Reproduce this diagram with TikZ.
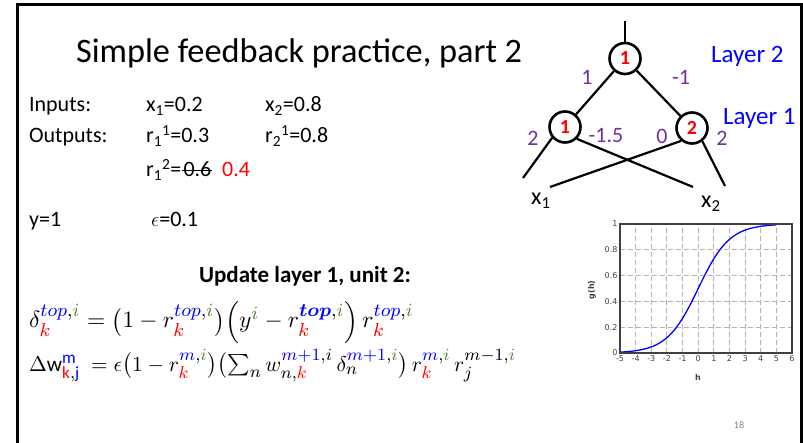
\documentclass[tikz,border=0pt]{standalone}
\usepackage{amsmath}
\usepackage{fontspec}
\setmainfont{Carlito}
\newfontfamily\plotfont{DejaVu Sans}
\usetikzlibrary{positioning}
\DeclareMathSizes{10}{10}{8}{6}

\definecolor{wpurple}{HTML}{7030A0}
\definecolor{igreen}{HTML}{548235}

\newcommand{\cK}{{\color{red}k}}
\newcommand{\cI}{{\color{igreen}i}}
\newcommand{\cTop}{{\color{blue}top}}
\newcommand{\cM}{{\color{blue}m}}
\newcommand{\cMp}{{\color{blue}m+1}}

\tikzset{
  body/.style={anchor=base west,inner sep=0pt,font=\fontsize{22}{26}\selectfont},
  unit node/.style={circle,draw,line width=2.6pt,minimum size=31pt,inner sep=0pt,
    text=red,font=\fontsize{20}{24}\selectfont\bfseries},
  weight/.style={text=wpurple,inner sep=0pt,font=\fontsize{22}{26}\selectfont},
  layer/.style={text=blue,anchor=base west,inner sep=0pt,font=\fontsize{25}{30}\selectfont},
  gridline/.style={dash pattern=on 5pt off 3pt,black!30,line width=0.9pt},
  ticklbl/.style={inner sep=1.5pt,text=black!75,font=\plotfont\fontsize{8}{9}\selectfont},
  eqn/.style={anchor=base west,inner sep=0pt,font=\fontsize{10}{12}\selectfont}
}

\begin{document}
\begin{tikzpicture}[x=1pt,y=-1pt,line width=2.2pt]
\useasboundingbox (0,0) rectangle (803,443);

% Slide frame
\draw[line width=3pt] (17.5,443) -- (17.5,4.7) -- (801.5,4.7) -- (801.5,443);

% Title
\node[anchor=base west,inner sep=0pt,font=\fontsize{34.3}{40}\selectfont] (title) at (75,63)
  {Simple feedback practice, part 2};

% Given values
\node[body] (inp) at (28,112) {Inputs:};
\node[body] (x1v) at (145,112) {x\textsubscript{1}=0.2};
\node[body] (x2v) at (264,112) {x\textsubscript{2}=0.8};
\node[body] (outp) at (28,143) {Outputs:};
\node[body] (r11) at (145,143) {r\textsubscript{1}\textsuperscript{1}=0.3};
\node[body] (r21) at (264,143) {r\textsubscript{2}\textsuperscript{1}=0.8};
\node[body] (r12) at (145,177) {r\textsubscript{1}\textsuperscript{2}=};
\node[body] (old) [right=0pt of r12.base east,anchor=base west] {0.6};
\node[body,text=red] (new) at (221,177) {0.4};
\draw[line width=1pt] ([yshift=6pt]old.base west) -- ([yshift=6pt]old.base east);
\node[body] (yval) at (28,227) {y=1};
\node[body] (eps) at (150,227) {$\epsilon$=0.1};

% Update rule
\node[anchor=base,inner sep=0pt,font=\fontsize{23}{27}\selectfont\bfseries] (upd) at (305,283)
  {Update layer 1, unit 2:};
\node[eqn] (eqtop) at (28,328)
  {\scalebox{2.34}{$\delta_{\cK}^{\cTop,\cI} = \bigl(1 - r_{\cK}^{\cTop,\cI}\bigr)\Bigl(y^{\cI} - r_{\cK}^{{\color{blue}\boldsymbol{top}},\cI}\Bigr)\, r_{\cK}^{\cTop,\cI}$}};
\node[eqn] (eqw) at (28,371)
  {\scalebox{2.14}{$\Delta\mathrm{w}_{{\color{red}\mathrm{k}},{\color{blue}\mathrm{j}}}^{{\color{blue}\mathrm{m}}}\ = \epsilon\bigl(1 - r_{\cK}^{\cM,\cI}\bigr)\bigl(\textstyle\sum_n w_{n,\cK}^{\cMp,i}\,\delta_n^{\cMp,\cI}\bigr)\, r_{\cK}^{\cM,\cI}\, r_j^{m-1,\cI}$}};

% Define vertices
\node[unit node] (top) at (625,58.5) {1};
\node[unit node] (h1) at (565,127) {1};
\node[unit node] (h2) at (692,128) {2};
\coordinate (out) at (625,21);
\coordinate (h1l) at (523,178);
\coordinate (h1r) at (693,187);
\coordinate (h2l) at (550,187);
\coordinate (h2r) at (725,186);

% Draw edges
\path
  (out) edge (top)
  (top) edge (h1)
  (top) edge (h2)
  (h1.-140) edge (h1l)
  (h1.-45) edge (h1r)
  (h2.-130) edge (h2l)
  (h2.-52) edge (h2r);

% Weights and labels
\node[weight] (w1) at (587,77) {1};
\node[weight] (w2) at (681,77) {-1};
\node[weight] (w3) at (533,138) {2};
\node[weight] (w4) at (606,136) {-1.5};
\node[weight] (w5) at (662,136) {0};
\node[weight] (w6) at (722,138) {2};
\node[layer] (lay2) at (710,63) {Layer 2};
\node[layer] (lay1) at (722,125) {Layer 1};
\node[anchor=base west,inner sep=0pt,font=\fontsize{24}{28}\selectfont] (in1) at (530,205) {x\textsubscript{1}};
\node[anchor=base west,inner sep=0pt,font=\fontsize{24}{28}\selectfont] (in2) at (700,208) {x\textsubscript{2}};

% Sigmoid plot
\begin{scope}[shift={(698.2,353)},x=15.636pt,y=129pt]
  \foreach \h in {-4,...,5}
    \draw[gridline] (\h,0) -- (\h,1);
  \foreach \g in {0.2,0.4,0.6,0.8}
    \draw[gridline] (-5,\g) -- (6,\g);
  \draw[blue,line width=1.3pt,domain=-5:5,samples=80] plot (\x,{1/(1+exp(-\x))});
  \draw[black!75,line width=1.3pt] (-5,0) rectangle (6,1);
  \draw[black!75,line width=2pt] (-5,1) -- (6,1);
  \foreach \h in {-5,...,6}
    \node[ticklbl,below] at (\h,0) {\h};
  \foreach \g in {0,0.2,0.4,0.6,0.8,1}
    \node[ticklbl,left] at (-5,\g) {\g};
\end{scope}
\node[ticklbl,rotate=90,font=\plotfont\fontsize{8}{9}\selectfont\bfseries] (gh) at (592,290) {g(h)};
\node[ticklbl,font=\plotfont\fontsize{8}{9}\selectfont\bfseries] (hlbl) at (698,377) {h};

% Slide number
\node[text=black!50,font=\fontsize{10}{12}\selectfont] (num) at (739,425) {18};
\end{tikzpicture}
\end{document}
